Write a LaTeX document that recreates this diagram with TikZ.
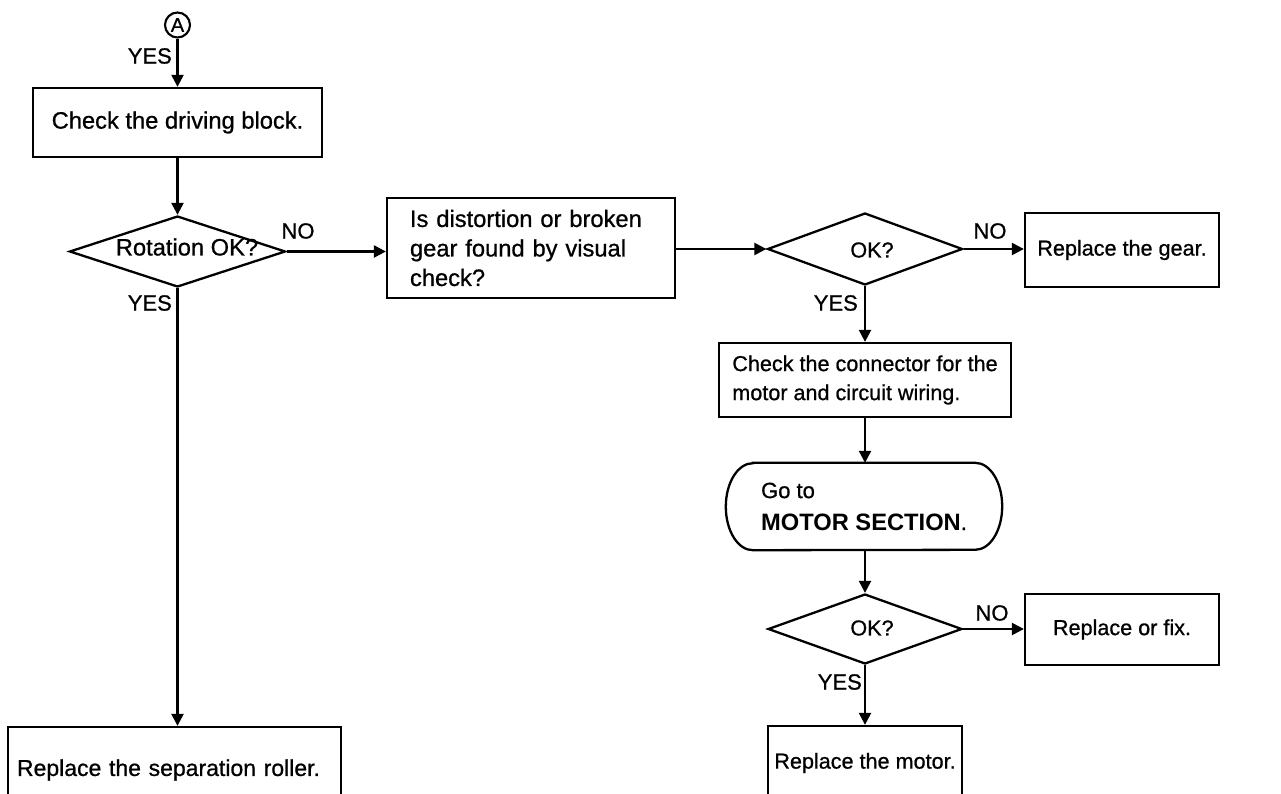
\documentclass[tikz,border=0pt]{standalone}
\usepackage{fontspec}
\setmainfont{Liberation Sans}[UprightFeatures={FakeBold=0.8}]
\usetikzlibrary{shapes.geometric,arrows.meta}
\begin{document}
\begin{tikzpicture}[x=1pt,y=-1pt,
  fL/.style={font=\fontsize{23.7}{29.5}\selectfont},
  fR/.style={font=\fontsize{21.6}{29}\selectfont},
  lab/.style={font=\fontsize{22}{24}\selectfont, inner sep=0pt},
  proc/.style={draw, rectangle, line width=2.3pt, inner sep=0pt},
  dia/.style={draw, diamond, line width=2.3pt, inner sep=0pt},
  arr/.style={line width=2.3pt, -{Triangle[length=12pt,width=12pt]}}]
\useasboundingbox (0,0) rectangle (1281,794);
\clip (0,0) rectangle (1281,794);
\fill[white] (0,0) rectangle (1281,794);

% connector circle
\node[circle, draw, line width=2.1pt, minimum size=25pt, inner sep=0pt,
      font=\fontsize{20}{20}\selectfont] (A) at (177.5,25) {A};
\node[lab, anchor=east] (yes0) at (172,56) {YES};

% left column
\node[proc, fL, minimum width=289pt, minimum height=69pt] (b1) at (177.5,122.5) {Check the driving block.};
\node[dia, minimum width=216pt, minimum height=71pt] (d1) at (177.5,251.5) {};
\node[fL, inner sep=0pt] (t1) at (187,247) {Rotation OK?};
\node[lab] (no1) at (298,231) {NO};
\node[lab, anchor=east] (yes1) at (172,303) {YES};
\node[proc, font=\fontsize{23}{29}\selectfont, align=left, text width=315pt, inner xsep=9pt, minimum height=86pt] (roller) at (174.5,770)
  {Replace the separation roller.};

% middle box
\node[proc, fL, align=left, text width=242pt, inner xsep=23pt, minimum height=100pt] (b2) at (531,248)
  {Is distortion or broken\\gear found by visual\\check?};

% right column
\node[dia, minimum width=195pt, minimum height=72pt] (d2) at (865,249) {};
\node[fR, inner sep=0pt] (t2) at (872,250) {OK?};
\node[lab] (no2) at (990,231) {NO};
\node[lab, anchor=east] (yes2) at (858,303) {YES};
\node[proc, fR, minimum width=194pt, minimum height=74pt] (gear) at (1122,250) {Replace the gear.};

\node[proc, fR, align=left, minimum width=292pt, inner xsep=13pt, minimum height=74pt] (b3) at (865,380)
  {Check the connector for the\\motor and circuit wiring.};

\node[align=left, minimum width=222pt, minimum height=87pt, inner sep=0pt,
      font=\fontsize{22}{32}\selectfont] (term) at (864,506.5)
  {Go to\\{\fontsize{23.7}{32}\selectfont\bfseries MOTOR SECTION}.};
\draw[line width=2.3pt] (term.north west) -- (term.north east)
  arc[start angle=90, end angle=-90, x radius=27pt, y radius=43.5pt]
  -- (term.south west)
  arc[start angle=270, end angle=90, x radius=27pt, y radius=43.5pt] -- cycle;

\node[dia, minimum width=194pt, minimum height=70pt] (d3) at (865,629) {};
\node[fR, inner sep=0pt] (t3) at (872,628) {OK?};
\node[lab] (no3) at (992,613) {NO};
\node[lab, anchor=east] (yes3) at (862,682) {YES};
\node[proc, fR, minimum width=194pt, minimum height=71pt] (fix) at (1122,629.5) {Replace or fix.};
\node[proc, fR, minimum width=194pt, minimum height=74pt] (motor) at (865,763) {Replace the motor.};

% connectors
\draw[arr] (A.south) -- (b1.north);
\draw[arr] (b1.south) -- (d1.north);
\draw[arr] (d1.east) -- (b2.west |- d1.east);
\draw[arr] (d1.south) -- (d1.south |- roller.north);
\draw[arr] (b2.east |- d2.west) -- (d2.west);
\draw[arr] (d2.east) -- (gear.west |- d2.east);
\draw[arr] (d2.south) -- (b3.north);
\draw[arr] (b3.south) -- (b3.south |- term.north);
\draw[arr] (d3.north |- term.south) -- (d3.north);
\draw[arr] (d3.east) -- (fix.west |- d3.east);
\draw[arr] (d3.south) -- (motor.north);
\end{tikzpicture}
\end{document}
